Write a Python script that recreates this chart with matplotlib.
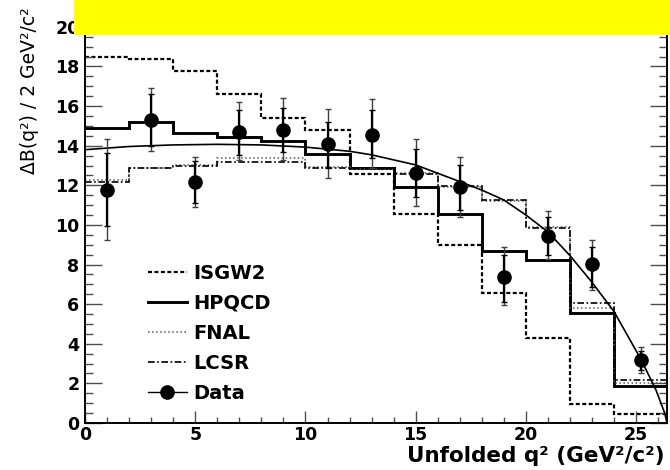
import matplotlib
matplotlib.use('Agg')
import matplotlib.pyplot as plt
from matplotlib.lines import Line2D
from matplotlib.patches import Rectangle

# q2 bins (GeV^2/c^2)
edges = [0, 2, 4, 6, 8, 10, 12, 14, 16, 18, 20, 22, 24, 26.4]

# model predictions per bin
isgw2 = [18.5, 18.37, 17.75, 16.6, 15.4, 14.8, 12.57, 10.54, 8.97, 6.58, 4.31, 0.96, 0.44]
hpqcd = [14.88, 15.18, 14.63, 14.46, 14.26, 13.57, 12.86, 11.94, 10.54, 8.7, 8.23, 5.54, 1.87]
fnal = [12.25, 12.9, 13.05, 13.4, 13.4, 12.95, 12.8, 12.6, 11.9, 11.2, 9.9, 5.8, 2.02]
lcsr = [12.15, 12.85, 13.0, 13.2, 13.2, 12.88, 12.86, 12.55, 11.95, 11.27, 9.84, 6.04, 2.17]

# data points
data_x = [1, 3, 5, 7, 9, 11, 13, 15, 17, 19, 21, 23, 25.2]
data_y = [11.77, 15.3, 12.15, 14.68, 14.8, 14.09, 14.55, 12.64, 11.9, 7.39, 9.45, 8.03, 3.18]
tot_lo = [9.24, 13.74, 10.93, 13.28, 13.28, 12.35, 12.9, 10.96, 10.39, 5.96, 8.27, 6.7, 2.5]
tot_hi = [14.34, 16.9, 13.45, 16.23, 16.4, 15.86, 16.36, 14.33, 13.45, 8.87, 10.72, 9.24, 3.85]
stat_lo = [9.95, 14.0, 11.1, 13.53, 13.7, 12.9, 13.37, 11.43, 10.76, 6.13, 8.49, 6.88, 2.7]
stat_hi = [13.62, 16.6, 13.25, 15.8, 15.9, 15.2, 15.8, 13.82, 13.03, 8.49, 10.42, 8.9, 3.65]

# fit curve
fit_x = [0, 2, 4, 6, 8, 10, 12, 13, 15, 17, 18, 19, 20, 21, 22, 23, 24, 25.2, 25.9, 26.3, 26.4]
fit_y = [13.8, 13.96, 14.04, 14.07, 14.04, 13.93, 13.72, 13.54, 13.03, 12.19, 11.76, 11.26,
         10.5, 9.65, 8.45, 7.1, 5.62, 3.25, 1.67, 0.49, 0.0]

fig = plt.figure(figsize=(6.7, 4.7), dpi=100)
ax = fig.add_axes([85/670, 47/470, 582/670, 408/470])

ax.stairs(isgw2, edges, baseline=None, color='black', lw=1.6, ls=(0, (1.8, 1.1)))
ax.stairs(hpqcd, edges, baseline=None, color='black', lw=2.1)
ax.stairs(fnal, edges, baseline=None, color='0.35', lw=1.1, ls=':')
ax.stairs(lcsr, edges, baseline=None, color='black', lw=1.2, ls=(0, (4, 1.5, 1, 1.5)))
ax.plot(fit_x, fit_y, color='black', lw=1.2)

err_tot = [[y - l for y, l in zip(data_y, tot_lo)], [h - y for y, h in zip(data_y, tot_hi)]]
err_stat = [[y - l for y, l in zip(data_y, stat_lo)], [h - y for y, h in zip(data_y, stat_hi)]]
ax.errorbar(data_x, data_y, yerr=err_tot, fmt='none', ecolor='0.25', elinewidth=1.0, capsize=2.5, capthick=1.0)
ax.errorbar(data_x, data_y, yerr=err_stat, fmt='o', color='black', ms=9.5, elinewidth=1.6,
            capsize=2.0, capthick=1.0, zorder=5)

ax.set_xlim(0, 26.4)
ax.set_ylim(0, 20.6)
ax.set_xticks([0, 5, 10, 15, 20, 25])
ax.set_xticks(range(0, 27), minor=True)
ax.set_yticks(range(0, 21, 2))
ax.set_yticks([i * 0.5 for i in range(0, 42)], minor=True)
for lab in ax.get_xticklabels() + ax.get_yticklabels():
    lab.set_fontweight('bold')
ax.tick_params(axis='both', which='both', direction='in', top=True, right=True,
               labelsize=12.5, color='0.3', width=1.0)
ax.tick_params(axis='x', which='major', length=9, pad=2.5)
ax.tick_params(axis='x', which='minor', length=4.5)
ax.tick_params(axis='y', which='major', length=12, pad=4)
ax.tick_params(axis='y', which='minor', length=6)
for s in ax.spines.values():
    s.set_linewidth(1.4)

handles = [
    Line2D([], [], color='black', lw=1.6, ls=(0, (1.8, 1.1))),
    Line2D([], [], color='black', lw=2.1),
    Line2D([], [], color='0.35', lw=1.1, ls=':'),
    Line2D([], [], color='black', lw=1.2, ls=(0, (4, 1.5, 1, 1.5))),
    Line2D([], [], color='black', lw=1.0, marker='o', ms=9.5),
]
labels = ['ISGW2', 'HPQCD', 'FNAL', 'LCSR', 'Data']
fig.legend(handles, labels, loc='upper left', bbox_to_anchor=(148/670, 1 - 264/470),
           frameon=False, borderpad=0, borderaxespad=0, handlelength=2.0, handletextpad=0.35,
           labelspacing=0.56, prop={'weight': 'bold', 'size': 14})

fig.text(665/670, 1 - 462/470, 'Unfolded q² (GeV²/c²)',
         ha='right', va='baseline', fontsize=15.5, fontweight='bold')
fig.text(30/670, 1 - 7/470, 'ΔB(q²) / 2 GeV²/c²', rotation=90,
         ha='center', va='top', fontsize=13.5)

fig.add_artist(Rectangle((74/670, 1 - 35/470), 1, 35/470, transform=fig.transFigure,
                         facecolor='#ffff00', edgecolor='none', zorder=20))

fig.savefig('out.png', dpi=100)
